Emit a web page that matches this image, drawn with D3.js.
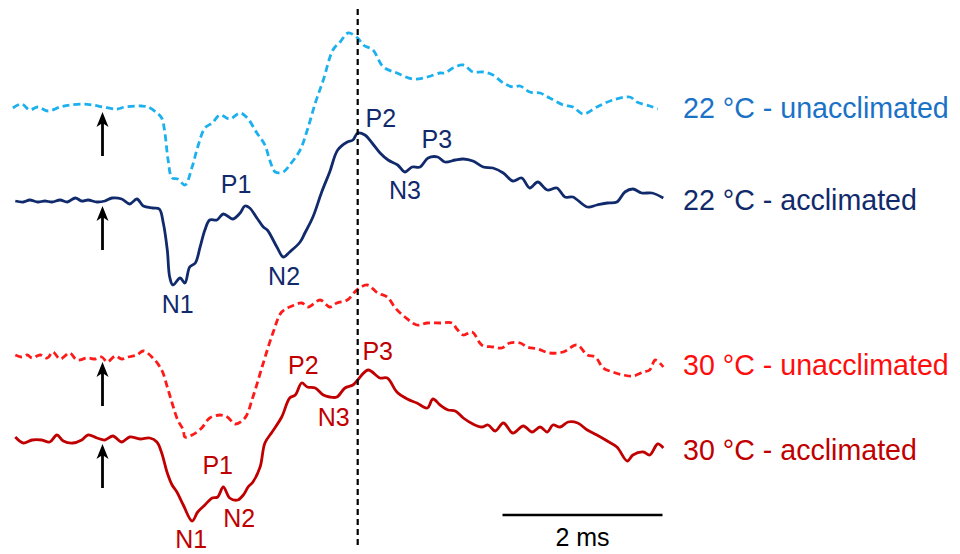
<!DOCTYPE html>
<html>
<head>
<meta charset="utf-8">
<script src="https://cdn.jsdelivr.net/npm/d3@7"></script>
<style>
  body { margin: 0; background: #fff; }
  svg { display: block; font-family: "Liberation Sans", Arial, sans-serif; }
</style>
</head>
<body>
<div id="chart"></div>
<script>
// time in ms after stimulus (arrow), amplitude in arbitrary units (0 = baseline)
var t22u = [-1.12,-1.01,-0.91,-0.81,-0.68,-0.53,-0.41,-0.24,-0.12,0.01,0.18,0.28,0.49,0.57,0.68,0.74,0.78,0.82,0.87,0.94,1.03,1.12,1.19,1.28,1.37,1.47,1.59,1.72,1.81,1.93,2.03,2.09,2.16,2.26,2.34,2.47,2.56,2.66,2.76,2.88,2.97,3.07,3.19,3.26,3.38,3.51,3.68,3.88,4.06,4.22,4.28,4.38,4.51,4.63,4.76,4.88,5.01,5.13,5.22,5.34,5.47,5.59,5.76,5.88,6.01,6.18,6.38,6.59,6.68,6.84,6.94];
var v22u = [-0.1,0.3,-0.3,0,-0.4,0,0.2,0.3,0.2,0,-0.2,0,0.1,0,-0.6,-1.1,-2.6,-5.3,-7.1,-7.2,-7.8,-6.0,-4.0,-2.1,-1.6,-0.8,-1.2,-0.6,-1.1,-2.6,-3.8,-5.3,-6.5,-6.5,-5.8,-4.3,-2.3,0.4,2.7,5.7,6.5,7.4,6.9,6.2,5.7,4.0,3.4,2.8,3.0,3.4,3.4,3.9,4.2,3.5,3.5,3.2,2.4,2.0,2.1,1.5,1.4,0.9,0.2,0,-0.7,0,0.7,1.0,0.5,0.1,-0.2];

var t22a = [-1.09,-0.99,-0.91,-0.81,-0.72,-0.63,-0.53,-0.44,-0.34,-0.26,-0.18,-0.07,0.03,0.12,0.24,0.34,0.43,0.51,0.63,0.71,0.76,0.81,0.84,0.88,0.97,1.03,1.09,1.16,1.22,1.28,1.34,1.43,1.51,1.63,1.72,1.78,1.84,1.93,2.01,2.06,2.18,2.26,2.34,2.47,2.53,2.63,2.74,2.84,2.94,3.06,3.13,3.19,3.28,3.37,3.47,3.57,3.69,3.78,3.87,3.97,4.07,4.19,4.28,4.41,4.51,4.63,4.76,4.88,5.01,5.13,5.24,5.34,5.44,5.56,5.68,5.78,5.88,6.06,6.18,6.31,6.43,6.53,6.63,6.74,6.87,7.01];
var v22a = [0,-0.1,0.1,-0.1,0,-0.1,0.1,-0.1,0.3,0,0.1,-0.1,0,0.3,0.2,-0.3,0.2,-0.5,-0.7,-0.8,-2.2,-4.9,-7.6,-8.4,-7.7,-8.2,-6.6,-6.2,-4.6,-2.9,-1.9,-1.9,-1.3,-1.8,-1.2,-0.5,-0.7,-1.7,-2.6,-2.9,-4.6,-5.6,-5.1,-4.1,-3.2,-1.6,0.9,2.9,5.1,5.9,6.1,6.8,6.6,5.8,4.8,4.1,3.6,2.9,3.4,3.4,4.3,4.4,3.9,4.1,4.2,4.0,3.4,3.3,2.8,2.0,2.3,1.3,1.9,1.1,1.3,0.4,0.4,-0.6,-0.4,-0.2,-0.1,0.9,1.2,0.8,0.8,0.3];

var t30u = [-1.09,-1.01,-0.94,-0.88,-0.78,-0.69,-0.62,-0.53,-0.41,-0.32,-0.19,-0.09,-0.01,0.06,0.16,0.24,0.32,0.43,0.51,0.63,0.74,0.81,0.87,0.94,1.01,1.03,1.12,1.24,1.34,1.47,1.56,1.66,1.78,1.88,2.01,2.13,2.24,2.37,2.49,2.57,2.72,2.84,2.93,3.06,3.18,3.31,3.44,3.56,3.66,3.78,3.93,4.06,4.22,4.37,4.43,4.51,4.62,4.74,4.88,4.99,5.09,5.22,5.31,5.44,5.59,5.76,5.93,6.06,6.16,6.26,6.38,6.51,6.63,6.76,6.84,6.91,7.01];
var v30u = [0.2,0,0.2,-0.1,0.2,-0.1,0.5,-0.2,0.4,-0.3,-0.1,-0.2,0,-0.5,0.1,-0.2,0,0.2,0.6,-0.1,-1.3,-3.0,-4.6,-6.3,-7.3,-8.0,-7.8,-7.1,-6.1,-5.8,-6.0,-6.7,-6.1,-4.0,-0.6,2.4,4.5,5.1,5.4,5.0,5.7,5.0,5.4,5.7,6.7,7.2,6.4,6.0,4.9,4.0,3.2,3.4,3.4,3.4,2.8,2.2,2.5,1.2,1.0,0.9,1.4,1.4,1.0,0.8,0.4,0.5,1.2,0.2,0,-1.1,-1.5,-1.8,-1.9,-1.5,-1.3,-0.3,-1.0];

var t30a = [-1.09,-0.99,-0.88,-0.76,-0.66,-0.57,-0.49,-0.37,-0.26,-0.18,-0.07,0.03,0.13,0.24,0.34,0.47,0.59,0.68,0.74,0.81,0.87,0.93,1.01,1.12,1.19,1.28,1.37,1.44,1.51,1.59,1.69,1.76,1.82,1.88,1.97,2.03,2.12,2.24,2.34,2.41,2.49,2.56,2.66,2.76,2.84,2.93,3.03,3.13,3.19,3.32,3.47,3.56,3.68,3.81,3.93,4.06,4.13,4.22,4.32,4.41,4.51,4.63,4.74,4.82,4.91,5.01,5.13,5.26,5.37,5.47,5.56,5.63,5.72,5.82,5.94,6.06,6.18,6.31,6.43,6.56,6.63,6.76,6.84,6.94,7.01];
var v30a = [0.2,-0.4,-0.1,-0.1,-0.3,0.4,-0.2,-0.4,-0.1,0.4,0.1,-0.1,0.3,-0.3,0.2,0,0.1,-0.3,-1.4,-3.4,-4.6,-5.3,-6.6,-8.2,-7.3,-6.6,-5.9,-5.8,-4.8,-5.9,-6.1,-5.6,-4.8,-4.3,-2.8,-0.4,0.7,2.2,4.1,4.4,5.6,5.2,5.1,4.4,4.2,4.2,5.1,5.4,5.9,6.9,6.1,6.1,4.7,4.0,3.6,3.1,4.0,3.4,2.9,2.8,2.1,1.5,1.2,1.4,0.8,1.6,0.6,1.3,0.7,1.2,0.7,1.4,1.2,1.7,1.6,0.9,0.4,-0.2,-0.8,-2.2,-1.6,-1.3,-1.6,-0.5,-0.9];

var legendNames = ["22 °C - unacclimated", "22 °C - acclimated", "30 °C - unacclimated", "30 °C - acclimated"];

// peak labels: [name, time ms, amplitude]
var peaks22a = [["N1",0.94,-11.2],["P1",1.67,0.8],["N2",2.27,-8.4],["P2",3.48,7.4],["N3",3.78,0.2],["P3",4.18,5.3]];
var peaks30a = [["N1",1.11,-10.9],["P1",1.44,-3.5],["N2",1.71,-8.8],["P2",2.51,6.5],["N3",2.89,1.3],["P3",3.44,7.9]];

var markerTime = 3.19;   // dashed vertical line
var scaleBar = [5, 7];   // 2 ms

var width = 960, height = 554;

var svg = d3.select("#chart").append("svg")
    .attr("width", width)
    .attr("height", height);

var x = d3.scaleLinear().domain([0, 5]).range([102.5, 502.5]);
var y = d3.scaleLinear().domain([-10, 10]).range([100, -100]);

var traces = [
  {t: t22u, v: v22u, base: 107, color: "#1cb0ee", text: "#1a72c6", dash: "7,4", peaks: null, legendY: 118},
  {t: t22a, v: v22a, base: 201, color: "#112a6c", text: "#112a6c", dash: null, peaks: peaks22a, legendY: 210},
  {t: t30u, v: v30u, base: 357, color: "#ff1a1a", text: "#ff0d0d", dash: "7,4", peaks: null, legendY: 375},
  {t: t30a, v: v30a, base: 439, color: "#c00000", text: "#c00000", dash: null, peaks: peaks30a, legendY: 460}
];

var line = d3.line()
    .x(function (d) { return x(d[0]); })
    .y(function (d) { return y(d[1]); })
    .curve(d3.curveCatmullRom.alpha(0.5));

traces.forEach(function (tr, i) {
  var g = svg.append("g").attr("transform", "translate(0," + tr.base + ")");
  var pts = tr.t.map(function (t, j) { return [t, tr.v[j]]; });

  g.append("path")
    .attr("d", line(pts))
    .attr("fill", "none")
    .attr("stroke", tr.color)
    .attr("stroke-width", 2.8)
    .attr("stroke-linejoin", "round")
    .attr("stroke-dasharray", tr.dash);

  // stimulus arrow
  var ax = x(0);
  g.append("line")
    .attr("x1", ax).attr("x2", ax)
    .attr("y1", 49).attr("y2", 14)
    .attr("stroke", "#000")
    .attr("stroke-width", 2.8);
  g.append("path")
    .attr("d", "M" + ax + ",5 L" + (ax - 6) + ",20 L" + ax + ",16 L" + (ax + 6) + ",20 Z")
    .attr("fill", "#000");

  if (tr.peaks) {
    g.selectAll("text.peak")
      .data(tr.peaks)
      .enter().append("text")
      .attr("class", "peak")
      .attr("x", function (d) { return x(d[1]); })
      .attr("y", function (d) { return y(d[2]); })
      .attr("text-anchor", "middle")
      .attr("font-size", 25)
      .attr("fill", tr.color)
      .text(function (d) { return d[0]; });
  }

  svg.append("text")
    .attr("x", 683)
    .attr("y", tr.legendY)
    .attr("font-size", 28.6)
    .attr("fill", tr.text)
    .text(legendNames[i]);
});

// dashed marker line
svg.append("line")
  .attr("x1", x(markerTime)).attr("x2", x(markerTime))
  .attr("y1", 9).attr("y2", 548)
  .attr("stroke", "#000")
  .attr("stroke-width", 2.2)
  .attr("stroke-dasharray", "6,4");

// scale bar
svg.append("line")
  .attr("x1", x(scaleBar[0])).attr("x2", x(scaleBar[1]))
  .attr("y1", 515).attr("y2", 515)
  .attr("stroke", "#000")
  .attr("stroke-width", 2.5);
svg.append("text")
  .attr("x", (x(scaleBar[0]) + x(scaleBar[1])) / 2)
  .attr("y", 546)
  .attr("text-anchor", "middle")
  .attr("font-size", 25)
  .attr("fill", "#000")
  .text((scaleBar[1] - scaleBar[0]) + " ms");
</script>
</body>
</html>
